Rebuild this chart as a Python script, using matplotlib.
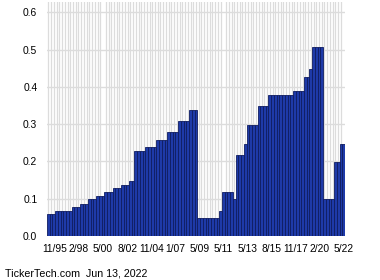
import matplotlib
matplotlib.use("Agg")
import matplotlib.pyplot as plt
from matplotlib.ticker import MultipleLocator

plt.rcParams["font.family"] = ["Liberation Sans", "DejaVu Sans"]

# dividend per payment, one bar per payment
dividends = [
    0.058, 0.058, 0.058,
    0.068, 0.068, 0.068, 0.068, 0.068, 0.068,
    0.077, 0.077, 0.077,
    0.087, 0.087, 0.087,
    0.098, 0.098, 0.098,
    0.108, 0.108, 0.108,
    0.118, 0.118, 0.118,
    0.128, 0.128, 0.128,
    0.138, 0.138, 0.138,
    0.148, 0.148,
    0.228, 0.228, 0.228, 0.228,
    0.238, 0.238, 0.238, 0.238,
    0.258, 0.258, 0.258, 0.258,
    0.278, 0.278, 0.278, 0.278,
    0.308, 0.308, 0.308, 0.308,
    0.338, 0.338, 0.338,
    0.048, 0.048, 0.048, 0.048, 0.048, 0.048, 0.048, 0.048,
    0.068,
    0.118, 0.118, 0.118, 0.118,
    0.098,
    0.218, 0.218, 0.218,
    0.248,
    0.298, 0.298, 0.298, 0.298,
    0.348, 0.348, 0.348, 0.348,
    0.378, 0.378, 0.378, 0.378, 0.378, 0.378, 0.378, 0.378, 0.378,
    0.388, 0.388, 0.388, 0.388,
    0.428, 0.428,
    0.448,
    0.508, 0.508, 0.508, 0.508,
    0.098, 0.098, 0.098, 0.098,
    0.198, 0.198,
    0.248, 0.248,
]

tick_labels = ["11/95", "2/98", "5/00", "8/02", "11/04", "1/07", "5/09",
               "5/11", "5/13", "8/15", "11/17", "2/20", "5/22"]
# label positions along the bar index axis (time based, so not whole bars)
tick_pos = [2.4, 11.2, 20.0, 28.8, 37.6, 46.4, 55.2,
            64.0, 72.8, 81.6, 90.4, 99.2, 108.0]

fig = plt.figure(figsize=(3.8, 2.8), dpi=100)
ax = fig.add_axes([47 / 380, 1 - 236 / 280, 298 / 380, 234 / 280])

x = list(range(len(dividends)))
ax.bar(x, dividends, width=1.0, color="#1e3aa8", edgecolor="#0f1c60",
       linewidth=0.6, zorder=2)

ax.set_xlim(-0.5, len(dividends) - 0.5)
ax.set_ylim(0, 0.628)

ax.set_xticks(tick_pos)
ax.set_xticklabels(tick_labels)
ax.set_xticks(x, minor=True)
ax.yaxis.set_major_locator(MultipleLocator(0.1))
ax.yaxis.set_major_formatter(lambda v, p: f"{v:.1f}")

ax.grid(which="minor", axis="x", color="#dcdcdc", linewidth=0.9, zorder=0)
ax.grid(which="major", axis="y", color="#dcdcdc", linewidth=1.0, zorder=0)
ax.set_axisbelow(True)

ax.tick_params(axis="x", which="both", length=0, pad=6, labelsize=7.4)
ax.tick_params(axis="y", length=0, pad=7, labelsize=7.4)
for s in ax.spines.values():
    s.set_visible(False)

fig.text(5 / 380, 1 - 273 / 280, "TickerTech.com  Jun 13, 2022",
         fontsize=7.7, va="center", ha="left")

fig.savefig("out.png", dpi=100)
